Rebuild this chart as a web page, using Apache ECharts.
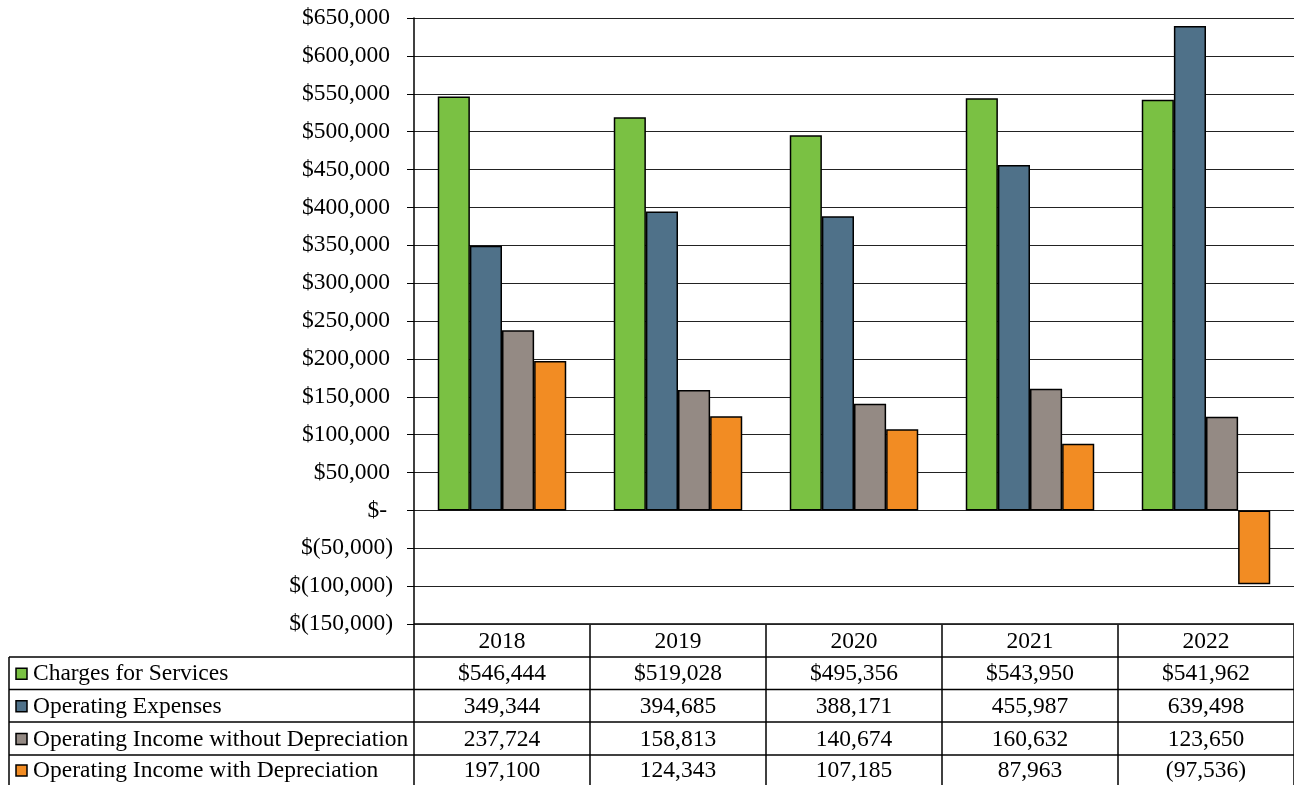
<!DOCTYPE html>
<html>
<head>
<meta charset="utf-8">
<script src="https://cdn.jsdelivr.net/npm/echarts@6/dist/echarts.min.js"></script>
<style>
html,body{margin:0;padding:0;background:#fff;}
#chart{width:1294px;height:785px;}
</style>
</head>
<body>
<div id="chart"></div>
<script>
var categories = ['2018', '2019', '2020', '2021', '2022'];
var seriesNames = ['Charges for Services', 'Operating Expenses', 'Operating Income without Depreciation', 'Operating Income with Depreciation'];
var chargesForServices = [546444, 519028, 495356, 543950, 541962];
var operatingExpenses = [349344, 394685, 388171, 455987, 639498];
var incomeWithoutDep = [237724, 158813, 140674, 160632, 123650];
var incomeWithDep = [197100, 124343, 107185, 87963, -97536];
var seriesColors = ['#7AC143', '#4F7189', '#948A84', '#F28C23'];
var yMin = -150000, yMax = 650000, yInterval = 50000;

var allData = [chargesForServices, operatingExpenses, incomeWithoutDep, incomeWithDep];
var FONT = '"Liberation Serif", "Times New Roman", serif';
var FS = 23.5;

function fmtNum(v) {
  return Math.abs(v).toString().replace(/\B(?=(\d{3})+(?!\d))/g, ',');
}
function fmtAxis(v) {
  if (v === 0) return '{z|$-}';
  if (v < 0) return '{n|$(' + fmtNum(v) + ')}';
  return '{p|$' + fmtNum(v) + '}';
}
function fmtCell(v, rowIdx) {
  if (v < 0) return '(' + fmtNum(v) + ')';
  return (rowIdx === 0 ? '$' : '') + fmtNum(v);
}

var W = 1294, H = 785;
var gridLeft = 414, gridTop = 18, gridRight = 0, gridBottom = 161;
var plotBottom = H - gridBottom; // 624
var colW = (W - gridLeft - gridRight) / categories.length;
var rowTops = [657, 689.5, 722, 755, 787];
var tableLeft = 9;

var chart = echarts.init(document.getElementById('chart'));

var series = seriesNames.map(function (name, i) {
  return {
    name: name,
    type: 'bar',
    data: allData[i],
    barGap: '0%',
    barCategoryGap: '27%',
    itemStyle: { color: seriesColors[i], borderColor: '#000', borderWidth: 1.5 },
    emphasis: { disabled: true },
    animation: false
  };
});

var graphics = [];
var lineStyle = { stroke: '#000', lineWidth: 1.5 };
for (var c = 0; c <= categories.length; c++) {
  var x = gridLeft + c * colW;
  graphics.push({ type: 'line', shape: { x1: x, y1: plotBottom, x2: x, y2: H }, style: lineStyle, silent: true });
}
graphics.push({ type: 'line', shape: { x1: gridLeft, y1: plotBottom, x2: W, y2: plotBottom }, style: lineStyle, silent: true });
graphics.push({ type: 'line', shape: { x1: tableLeft, y1: rowTops[0], x2: tableLeft, y2: H }, style: lineStyle, silent: true });
for (var r = 0; r < rowTops.length; r++) {
  graphics.push({ type: 'line', shape: { x1: tableLeft, y1: rowTops[r], x2: W, y2: rowTops[r] }, style: lineStyle, silent: true });
}
categories.forEach(function (cat, c) {
  graphics.push({
    type: 'text', silent: true,
    style: { text: cat, x: gridLeft + (c + 0.5) * colW, y: (plotBottom + rowTops[0]) / 2 + 1, align: 'center', verticalAlign: 'middle', font: FS + 'px ' + FONT, fill: '#000' }
  });
});
seriesNames.forEach(function (name, i) {
  var yMid = (rowTops[i] + Math.min(rowTops[i + 1], H)) / 2 + 1;
  graphics.push({
    type: 'rect', silent: true,
    shape: { x: 16, y: yMid - 6, width: 11, height: 11 },
    style: { fill: seriesColors[i], stroke: '#000', lineWidth: 1.5 }
  });
  graphics.push({
    type: 'text', silent: true,
    style: { text: name, x: 33, y: yMid, align: 'left', verticalAlign: 'middle', font: FS + 'px ' + FONT, fill: '#000' }
  });
  allData[i].forEach(function (v, c) {
    graphics.push({
      type: 'text', silent: true,
      style: { text: fmtCell(v, i), x: gridLeft + (c + 0.5) * colW, y: yMid, align: 'center', verticalAlign: 'middle', font: FS + 'px ' + FONT, fill: '#000' }
    });
  });
});

var labelRich = {
  p: { fontFamily: FONT, fontSize: FS, color: '#000', padding: [0, 3, 0, 0] },
  n: { fontFamily: FONT, fontSize: FS, color: '#000', padding: [0, 0, 0, 0] },
  z: { fontFamily: FONT, fontSize: FS, color: '#000', padding: [0, 6, 0, 0] }
};

chart.setOption({
  animation: false,
  backgroundColor: '#fff',
  grid: { left: gridLeft, top: gridTop, right: gridRight, bottom: gridBottom, containLabel: false },
  xAxis: {
    type: 'category',
    data: categories,
    axisLine: { show: false },
    axisTick: { show: false },
    axisLabel: { show: false },
    splitLine: { show: false }
  },
  yAxis: {
    type: 'value',
    min: yMin, max: yMax, interval: yInterval,
    axisLine: { show: true, lineStyle: { color: '#000', width: 1.5 } },
    axisTick: { show: true, length: 7, lineStyle: { color: '#000', width: 1 } },
    axisLabel: { formatter: fmtAxis, rich: labelRich, fontFamily: FONT, fontSize: FS, color: '#000', margin: 21 },
    splitLine: { show: true, lineStyle: { color: '#222', width: 1 } }
  },
  series: series,
  graphic: graphics
});
</script>
</body>
</html>
